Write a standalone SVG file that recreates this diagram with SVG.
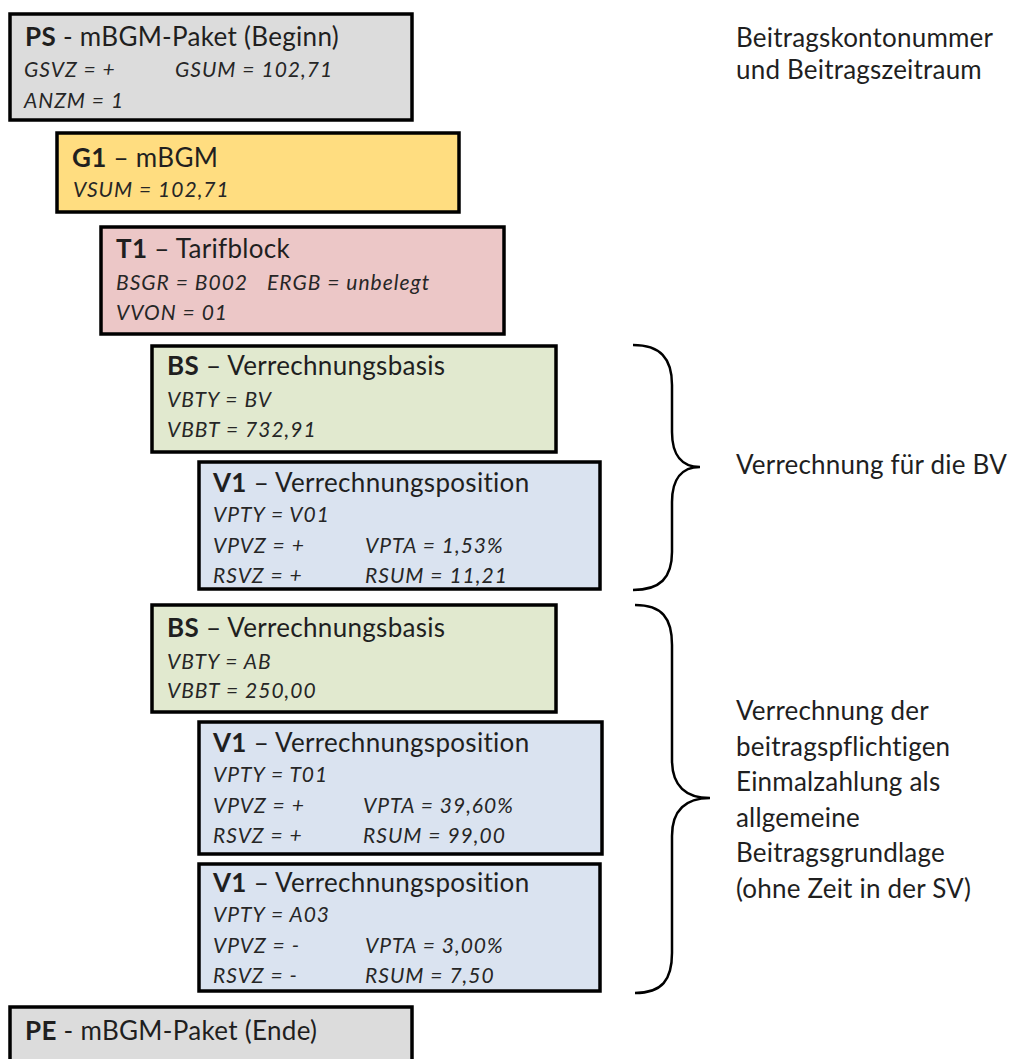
<svg xmlns="http://www.w3.org/2000/svg" width="1010" height="1059" viewBox="0 0 1010 1059">
<style>
.box{stroke:#000;stroke-width:3.5}
.ps{fill:#dcdcdc}
.g1{fill:#ffdd80}
.t1{fill:#ecc7c7}
.bs{fill:#e1e9cf}
.v1{fill:#dae3f0}
text{font-family:Lato,"Noto Sans",sans-serif;fill:#1f1f1f}
.h{font-size:26px;letter-spacing:0.3px}
.h tspan.b{font-weight:bold}
.f{font-size:21px;font-style:italic;letter-spacing:1px;fill:#262626}
.r{font-size:26px;letter-spacing:0.2px}
.brace{fill:none;stroke:#000;stroke-width:2.5}
</style>
<g id="node-PS">
<rect class="box ps" x="10" y="14" width="402" height="106"/>
<text class="h" x="25" y="46"><tspan class="b">PS</tspan> - mBGM-Paket (Beginn)</text>
<text class="f" x="24" y="77">GSVZ = +</text>
<text class="f" x="175" y="77">GSUM = 102,71</text>
<text class="f" x="24" y="108">ANZM = 1</text>
</g>
<g id="node-G1">
<rect class="box g1" x="57" y="133" width="402" height="79"/>
<text class="h" x="72" y="167"><tspan class="b">G1</tspan> – mBGM</text>
<text class="f" x="73" y="197">VSUM = 102,71</text>
</g>
<g id="node-T1">
<rect class="box t1" x="101" y="227" width="403" height="107"/>
<text class="h" x="116" y="258"><tspan class="b">T1</tspan> – Tarifblock</text>
<text class="f" x="116" y="290">BSGR = B002</text>
<text class="f" x="267" y="290">ERGB = unbelegt</text>
<text class="f" x="116" y="320">VVON = 01</text>
</g>
<g id="node-BS1">
<rect class="box bs" x="152" y="346" width="404" height="106"/>
<text class="h" x="167" y="375"><tspan class="b">BS</tspan> – Verrechnungsbasis</text>
<text class="f" x="167" y="407">VBTY = BV</text>
<text class="f" x="167" y="437">VBBT = 732,91</text>
</g>
<g id="node-V1a">
<rect class="box v1" x="199" y="462" width="401" height="127"/>
<text class="h" x="213" y="492"><tspan class="b">V1</tspan> – Verrechnungsposition</text>
<text class="f" x="213" y="522">VPTY = V01</text>
<text class="f" x="213" y="553">VPVZ = +</text>
<text class="f" x="365" y="553">VPTA = 1,53%</text>
<text class="f" x="213" y="583">RSVZ = +</text>
<text class="f" x="365" y="583">RSUM = 11,21</text>
</g>
<g id="node-BS2">
<rect class="box bs" x="152" y="605" width="404" height="107"/>
<text class="h" x="167" y="637"><tspan class="b">BS</tspan> – Verrechnungsbasis</text>
<text class="f" x="167" y="669">VBTY = AB</text>
<text class="f" x="167" y="698">VBBT = 250,00</text>
</g>
<g id="node-V1b">
<rect class="box v1" x="199" y="722" width="403" height="132"/>
<text class="h" x="213" y="752"><tspan class="b">V1</tspan> – Verrechnungsposition</text>
<text class="f" x="213" y="782">VPTY = T01</text>
<text class="f" x="213" y="813">VPVZ = +</text>
<text class="f" x="363" y="813">VPTA = 39,60%</text>
<text class="f" x="213" y="843">RSVZ = +</text>
<text class="f" x="363" y="843">RSUM = 99,00</text>
</g>
<g id="node-V1c">
<rect class="box v1" x="199" y="864" width="401" height="127"/>
<text class="h" x="213" y="892"><tspan class="b">V1</tspan> – Verrechnungsposition</text>
<text class="f" x="213" y="922">VPTY = A03</text>
<text class="f" x="213" y="953">VPVZ = -</text>
<text class="f" x="365" y="953">VPTA = 3,00%</text>
<text class="f" x="213" y="983">RSVZ = -</text>
<text class="f" x="365" y="983">RSUM = 7,50</text>
</g>
<g id="node-PE">
<rect class="box ps" x="10" y="1007" width="402" height="70"/>
<text class="h" x="25" y="1040"><tspan class="b">PE</tspan> - mBGM-Paket (Ende)</text>
</g>
<g id="connectors">
<path class="brace" d="M633,345 C660,345 672,358 672,385 L672,432 C672,455 682,467 700,467 C682,467 672,479 672,502 L672,552 C672,578 660,590 633,590"/>
<path class="brace" d="M635,605 C662,605 672,618 672,645 L672,760 C672,786 686,798 710,798 C686,798 672,810 672,836 L672,953 C672,980 662,993 635,993"/>
</g>
<g id="labels">
<text class="r" x="736" y="47">Beitragskontonummer</text>
<text class="r" x="736" y="79">und Beitragszeitraum</text>
<text class="r" x="736" y="474">Verrechnung für die BV</text>
<text class="r" x="736" y="720">Verrechnung der</text>
<text class="r" x="736" y="756">beitragspflichtigen</text>
<text class="r" x="736" y="791">Einmalzahlung als</text>
<text class="r" x="736" y="827">allgemeine</text>
<text class="r" x="736" y="862">Beitragsgrundlage</text>
<text class="r" x="736" y="898">(ohne Zeit in der SV)</text>
</g>
</svg>
